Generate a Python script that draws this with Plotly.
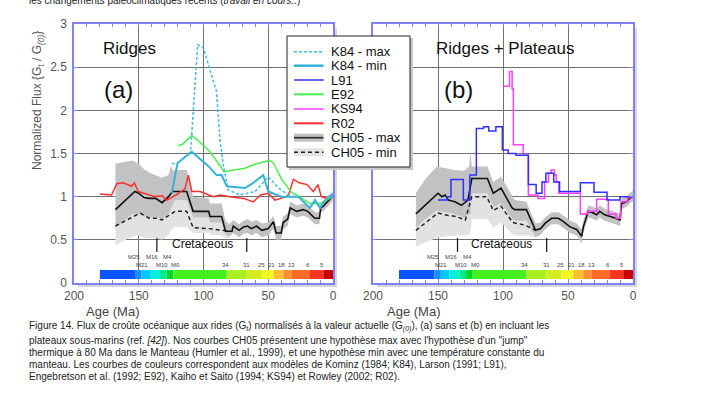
import plotly.graph_objects as go

W, H = 719, 393

# ---------------- DATA ----------------
# Panel (a) - Ridges
k84max_age = [124.5, 120, 110, 104.5, 100, 90, 87.3, 84.5, 81, 72, 60, 50, 42, 33, 26.8, 17.8, 13.9, 10, 6, 1, 0]
k84max_val = [1.38, 1.39, 1.52, 2.76, 2.72, 2.22, 1.66, 1.35, 1.08, 1.02, 1.06, 1.23, 1.10, 1.00, 1.00, 0.87, 0.96, 0.87, 0.96, 1.02, 1.00]

k84min_age = [124.6, 120, 109, 96, 90, 86, 82, 68, 61.5, 53.8, 50, 40, 26.8, 17.8, 13.9, 10, 6, 1, 0]
k84min_val = [1.04, 1.39, 1.52, 1.35, 1.25, 1.25, 1.12, 1.10, 1.16, 1.25, 1.06, 1.00, 1.00, 0.87, 0.96, 0.87, 0.96, 1.02, 1.00]

e92_age = [119.5, 116, 109, 102.7, 95, 87.3, 84, 80, 68, 61.5, 53.8, 49, 46, 39.6, 32, 26, 17.8, 10, 5, 0]
e92_val = [1.59, 1.61, 1.71, 1.63, 1.52, 1.35, 1.29, 1.30, 1.33, 1.37, 1.40, 1.42, 1.39, 1.20, 1.05, 1.00, 0.92, 0.92, 0.96, 1.00]

r02_age = [180, 171, 167, 162, 155.5, 153.4, 150.4, 146, 137.5, 132, 128.4, 121, 114.3, 111.7, 109, 102.7,
           92.4, 87, 80, 69, 61.5, 56, 50, 44.8, 34.5, 30.6, 26, 20, 15.2, 11.6, 9, 5, 0]
r02_val = [1.03, 1.02, 1.15, 1.16, 1.12, 1.16, 1.06, 1.04, 1.00, 1.01, 0.96, 1.02, 1.09, 1.25, 1.06, 1.06,
           1.00, 1.02, 1.00, 0.98, 0.94, 1.02, 1.04, 0.96, 1.01, 1.20, 1.16, 1.14, 1.06, 1.14, 1.00, 0.98, 1.01]

ch_age_a = [168, 153, 150, 146, 142, 137, 132, 127, 124, 113, 108, 96, 95, 86, 83, 78, 77, 72.5, 69, 66, 63, 59,
            55, 50, 46, 44, 40, 38.5, 35, 33, 28, 23, 19.5, 14, 10.5, 9.5, 7.5, 2.5, 0]
ch_max_a = [0.85, 1.06, 1.04, 0.99, 0.98, 0.98, 0.93, 1.00, 1.06, 1.06, 0.83, 0.83, 0.77, 0.77, 0.60, 0.60, 0.66,
            0.61, 0.65, 0.66, 0.63, 0.66, 0.61, 0.63, 0.71, 0.58, 0.58, 0.70, 0.74, 0.87, 0.83, 0.85, 0.83, 0.75,
            0.75, 0.87, 0.89, 0.97, 1.01]
chmin_age_a = [168, 149, 142, 136, 132, 126, 122, 113, 108, 96, 86, 80]
chmin_val_a = [0.66, 0.81, 0.75, 0.75, 0.73, 0.79, 0.83, 0.83, 0.64, 0.63, 0.61, 0.60]

band_age_a = [168, 160, 155, 150, 146, 141, 137, 132, 127, 125, 123.5, 122, 113, 108, 96, 95, 86, 83,
              80, 77, 72.5, 69, 66, 63, 59, 55, 50, 46, 44, 40, 38.5, 35, 33, 28, 23, 19.5, 14, 10.5, 9.5, 7.5, 2.5, 0]
dark_hi_a = [1.38, 1.41, 1.42, 1.38, 1.32, 1.27, 1.25, 1.22, 1.25, 1.36, 1.30, 1.31, 1.31, 1.00, 0.98, 0.92, 0.92, 0.72,
             0.68, 0.73, 0.68, 0.72, 0.74, 0.71, 0.73, 0.69, 0.70, 0.78, 0.66, 0.66, 0.77, 0.81, 0.94, 0.90, 0.92,
             0.90, 0.82, 0.82, 0.93, 0.95, 1.03, 1.06]
dark_lo_a = [0.64, 0.74, 0.80, 0.80, 0.77, 0.76, 0.77, 0.74, 0.80, 0.86, 0.92, 0.96, 0.96, 0.76, 0.76, 0.70, 0.70, 0.56,
             0.54, 0.58, 0.53, 0.57, 0.58, 0.55, 0.58, 0.53, 0.55, 0.63, 0.50, 0.50, 0.62, 0.66, 0.80, 0.76, 0.78,
             0.76, 0.68, 0.68, 0.81, 0.83, 0.91, 0.96]
light_age_a = [168, 160, 155, 150, 146, 141, 137, 132, 127, 125, 123.5, 122, 113, 108, 96, 95, 86, 83, 80]
light_lo_a = [0.44, 0.50, 0.54, 0.55, 0.52, 0.52, 0.52, 0.50, 0.56, 0.60, 0.64, 0.65, 0.65, 0.58, 0.58, 0.56, 0.55, 0.52, 0.52]
light_hi_a = [0.70, 0.80, 0.85, 0.85, 0.82, 0.80, 0.80, 0.78, 0.84, 0.90, 0.96, 0.98, 0.98, 0.80, 0.80, 0.74, 0.74, 0.60, 0.56]

# Panel (b) - Ridges + Plateaus
l91_age = [150, 143, 140, 130.5, 125.5, 120.5, 115, 111, 105.5, 100.5, 96, 90, 80.5, 74.5, 70, 67, 61, 56.5,
           40.5, 30, 20, 10, 0]
l91_val = [0.96, 1.00, 1.20, 0.96, 1.25, 1.79, 1.81, 1.76, 1.81, 1.54, 1.50, 1.48, 1.14, 1.04, 1.17, 1.27, 1.17,
           1.06, 1.16, 1.05, 0.96, 1.00, 1.00]

ks94_age = [100, 95, 93, 92, 84.5, 80.5, 73, 68, 65, 63, 60.5, 59, 57, 40.5, 35, 28, 19, 13, 9.5, 4, 0]
ks94_val = [2.28, 2.45, 2.25, 1.60, 1.48, 1.02, 0.98, 1.17, 1.27, 1.31, 1.25, 1.17, 1.04, 0.80, 0.83, 0.97,
            0.80, 0.75, 0.94, 0.99, 1.00]

ch_age_b = [167, 150, 147, 144.5, 142, 137, 132, 127, 124, 112, 107.5, 101.5, 93, 91, 82, 75, 71, 67.7, 62.6,
            57.4, 53.5, 48.4, 43.3, 39.5, 38.2, 36.5, 34.4, 30.5, 28, 25.6, 21.8, 15, 10, 8.8, 5, 2.6, 0]
ch_max_b = [0.80, 1.04, 1.00, 1.02, 0.96, 0.94, 0.90, 0.96, 1.21, 1.21, 1.04, 1.10, 0.87, 0.85, 0.85, 0.61, 0.63,
            0.69, 0.75, 0.75, 0.71, 0.65, 0.62, 0.54, 0.65, 0.72, 0.83, 0.81, 0.79, 0.83, 0.79, 0.76, 0.73, 0.92,
            0.94, 0.98, 1.00]
chmin_age_b = [167, 150, 145, 136, 129, 124, 112.5, 107.5, 101.5, 92.5, 83, 75]
chmin_val_b = [0.61, 0.81, 0.79, 0.77, 0.73, 1.00, 1.00, 0.84, 0.89, 0.70, 0.67, 0.61]

band_age_b = [167, 160, 151, 145, 137, 130, 126, 125, 124, 112, 107.5, 101.5, 93, 91,
              82, 75, 71, 67.7, 62.6, 57.4, 53.5, 48.4, 43.3, 39.5, 38.2, 36.5, 34.4, 30.5, 28, 25.6, 21.8, 15,
              10, 8.8, 5, 2.6, 0]
dark_hi_b = [1.04, 1.20, 1.35, 1.33, 1.31, 1.30, 1.35, 1.52, 1.35, 1.35, 1.17, 1.23, 1.00, 0.96,
             0.94, 0.69, 0.70, 0.76, 0.82, 0.82, 0.78, 0.72, 0.69, 0.62, 0.72, 0.79, 0.90, 0.88, 0.86, 0.90,
             0.86, 0.83, 0.80, 0.98, 1.00, 1.04, 1.07]
dark_lo_b = [0.64, 0.74, 0.84, 0.82, 0.80, 0.76, 0.80, 0.80, 1.04, 1.04, 0.88, 0.93, 0.74, 0.72,
             0.72, 0.53, 0.56, 0.62, 0.68, 0.68, 0.64, 0.58, 0.55, 0.46, 0.58, 0.65, 0.76, 0.74, 0.72, 0.76,
             0.72, 0.69, 0.66, 0.86, 0.88, 0.92, 0.95]
light_age_b = [167, 160, 151, 145, 137, 130, 126, 125, 124, 112, 107.5, 101.5, 93, 91, 82, 75]
light_lo_b = [0.42, 0.47, 0.52, 0.54, 0.55, 0.55, 0.56, 0.60, 0.74, 0.74, 0.64, 0.70, 0.57, 0.55, 0.55, 0.53]
light_hi_b = [0.70, 0.80, 0.88, 0.86, 0.84, 0.80, 0.84, 0.84, 1.08, 1.08, 0.92, 0.96, 0.78, 0.76, 0.74, 0.60]

# Geomagnetic time-scale colour bar (Ma boundaries) and anomaly labels
scale_edges = [180, 152.9, 147.8, 141.3, 133.6, 128.4, 123.3, 82, 66.6, 55, 46, 38.3, 31.9, 17.8, 7.5, 0]
scale_colors = ["#0a55ff", "#1a90ff", "#00c8ff", "#00f0d8", "#00e890", "#00d820", "#44f020", "#aaf020",
                "#d2ee22", "#f2f822", "#ffc030", "#ff9030", "#ff6a26", "#ff3322", "#cc0000"]
anom_top = ["M25", "M16", "M4"]
anom_top_age = [153.7, 140, 127.6]
anom_bot = ["M21", "M10", "M0", "34", "31", "25", "21", "18", "13", "6", "5"]
anom_bot_age = [147.8, 132.3, 121.5, 83.4, 66.6, 55.4, 47.2, 40, 31.8, 19.6, 8.5]

cret_a = [136, 66.6]
cret_b = [135, 66.4]

xticks = [200, 150, 100, 50, 0]
yticks = [0, 0.5, 1, 1.5, 2, 2.5, 3]

# ---------------- STYLE ----------------
C_K84D = "#40bde0"
C_K84 = "#35b2d6"
C_L91 = "#3030ff"
C_E92 = "#4cee4c"
C_KS94 = "#ff3cff"
C_R02 = "#ff2e2e"
C_DARK = "#c2c2c2"
C_LIGHT = "#e2e2e2"
FRAME = "#8080f4"
FONT = "Liberation Sans, Arial, sans-serif"


def px(x):
    return x / W


def py(y):
    return 1 - y / H


fig = go.Figure()


def band(age, hi, lo, color, xa, ya):
    fig.add_trace(go.Scatter(x=list(age) + list(age)[::-1], y=list(hi) + list(lo)[::-1],
                             fill="toself", fillcolor=color, line=dict(width=0), mode="lines",
                             xaxis=xa, yaxis=ya, hoverinfo="skip", showlegend=False))


def line(age, val, color, width, xa, ya, dash="solid", shape="linear"):
    fig.add_trace(go.Scatter(x=age, y=val, mode="lines",
                             line=dict(color=color, width=width, dash=dash, shape=shape),
                             xaxis=xa, yaxis=ya, showlegend=False))


# Panel a
band(light_age_a, light_hi_a, light_lo_a, C_LIGHT, "x", "y")
band(band_age_a, dark_hi_a, dark_lo_a, C_DARK, "x", "y")
line(chmin_age_a, chmin_val_a, "#222", 1.5, "x", "y", dash="4px,3px")
line(ch_age_a, ch_max_a, "#111", 1.6, "x", "y")
line(r02_age, r02_val, C_R02, 1.5, "x", "y")
line(e92_age, e92_val, C_E92, 1.5, "x", "y")
line(k84min_age, k84min_val, C_K84, 2, "x", "y")
line(k84max_age, k84max_val, C_K84D, 1.5, "x", "y", dash="3px,2px")

# Panel b
band(light_age_b, light_hi_b, light_lo_b, C_LIGHT, "x2", "y2")
band(band_age_b, dark_hi_b, dark_lo_b, C_DARK, "x2", "y2")
line(chmin_age_b, chmin_val_b, "#222", 1.5, "x2", "y2", dash="4px,3px")
line(ch_age_b, ch_max_b, "#111", 1.6, "x2", "y2")
line(ks94_age, ks94_val, C_KS94, 1.5, "x2", "y2", shape="hv")
line(l91_age, l91_val, C_L91, 1.5, "x2", "y2", shape="hv")

shapes = []
annos = []

# soft shadows at the right and bottom of the plot frames
for x0, x1 in [(74, 333), (373, 633)]:
    shapes.append(dict(type="rect", xref="paper", yref="paper", x0=px(x1), x1=px(x1 + 4),
                       y0=py(283 + 4), y1=py(24 + 4), fillcolor="#d6d6d6", line=dict(width=0), layer="below"))
    shapes.append(dict(type="rect", xref="paper", yref="paper", x0=px(x0 + 4), x1=px(x1 + 4),
                       y0=py(283 + 4), y1=py(283), fillcolor="#d6d6d6", line=dict(width=0), layer="below"))

for xr, yr, cret in [("x", "y", cret_a), ("x2", "y2", cret_b)]:
    for i, col in enumerate(scale_colors):
        shapes.append(dict(type="rect", xref=xr, yref=yr, x0=scale_edges[i], x1=scale_edges[i + 1],
                           y0=0.046, y1=0.15, fillcolor=col, line=dict(width=0), layer="above"))
    for c in cret:
        shapes.append(dict(type="line", xref=xr, yref=yr, x0=c, x1=c, y0=0.36, y1=0.52,
                           line=dict(color="#111", width=1.2)))
    for t, a in zip(anom_top, anom_top_age):
        annos.append(dict(xref=xr, yref=yr, x=a, y=0.30, text=t, showarrow=False,
                          font=dict(size=6, color="#444", family=FONT)))
    for t, a in zip(anom_bot, anom_bot_age):
        annos.append(dict(xref=xr, yref=yr, x=a, y=0.21, text=t, showarrow=False,
                          font=dict(size=6, color="#444", family=FONT)))
    annos.append(dict(xref=xr, yref=yr, x=101, y=0.45, text="Cretaceous", showarrow=False,
                      font=dict(size=12, color="#111", family=FONT)))

# Panel titles
annos += [
    dict(xref="x", yref="y", x=157.5, y=2.72, text="Ridges", showarrow=False,
         font=dict(size=17, color="#111", family=FONT)),
    dict(xref="x", yref="y", x=165.5, y=2.24, text="(a)", showarrow=False,
         font=dict(size=24, color="#111", family=FONT)),
    dict(xref="x2", yref="y2", x=98.5, y=2.72, text="Ridges + Plateaus", showarrow=False,
         font=dict(size=17, color="#111", family=FONT)),
    dict(xref="x2", yref="y2", x=134.5, y=2.24, text="(b)", showarrow=False,
         font=dict(size=24, color="#111", family=FONT)),
]

# axis titles
annos += [
    dict(xref="paper", yref="paper", x=px(38), y=py(101), xanchor="center", yanchor="middle",
         text="Normalized Flux {G<sub>t</sub> / G<sub><i>(0)</i></sub>}",
         textangle=-90, showarrow=False, font=dict(size=12, color="#555", family=FONT)),
    dict(xref="paper", yref="paper", x=px(113), y=py(311), xanchor="center", yanchor="middle",
         text="Age (Ma)", showarrow=False, font=dict(size=13, color="#444", family=FONT)),
    dict(xref="paper", yref="paper", x=px(413), y=py(311), xanchor="center", yanchor="middle",
         text="Age (Ma)", showarrow=False, font=dict(size=13, color="#444", family=FONT)),
]

# Manual legend
shapes.append(dict(type="rect", xref="paper", yref="paper", x0=px(289), x1=px(413), y0=py(170), y1=py(38),
                   fillcolor="#c8c8c8", line=dict(width=0)))
shapes.append(dict(type="rect", xref="paper", yref="paper", x0=px(287), x1=px(410), y0=py(167), y1=py(36),
                   fillcolor="white", line=dict(color="#222", width=1)))
leg = [
    ("K84 - max", C_K84D, 1.5, "3px,2px", None),
    ("K84 - min", C_K84, 2.5, "solid", None),
    ("L91", C_L91, 1.5, "solid", None),
    ("E92", C_E92, 2, "solid", None),
    ("KS94", C_KS94, 1.5, "solid", None),
    ("R02", C_R02, 2, "solid", None),
    ("CH05 - max", "#222", 1.6, "solid", C_DARK),
    ("CH05 - min", "#222", 1.6, "4px,3px", C_LIGHT),
]
leg_y = [51.7, 65.7, 80, 94.3, 109, 123.3, 137.7, 152.3]
for (name, col, wd, dash, bg), yy in zip(leg, leg_y):
    if bg:
        shapes.append(dict(type="line", xref="paper", yref="paper", x0=px(294), x1=px(323.5), y0=py(yy), y1=py(yy),
                           line=dict(color=bg, width=8)))
    shapes.append(dict(type="line", xref="paper", yref="paper", x0=px(294), x1=px(323.5), y0=py(yy), y1=py(yy),
                       line=dict(color=col, width=wd, dash=dash)))
    annos.append(dict(xref="paper", yref="paper", x=px(329), y=py(yy), text=name, showarrow=False,
                      xanchor="left", yanchor="middle", font=dict(size=13, color="#111", family=FONT)))

# Document text (top line cut + caption)
annos.append(dict(xref="paper", yref="paper", x=px(27), y=py(0.5), xanchor="left", yanchor="middle",
                  text="les changements paléoclimatiques récents (<i>travail en cours..</i>)", showarrow=False,
                  font=dict(size=10, color="#222", family=FONT)))
caption = [
    "Figure 14. Flux de croûte océanique aux rides (G<sub>t</sub>) normalisés à la valeur actuelle (G<sub><i>(0)</i></sub>), (a) sans et (b) en incluant les",
    "plateaux sous-marins (ref. <i>[42]</i>). Nos courbes CH05 présentent une hypothèse max avec l'hypothèse d'un \"jump\"",
    "thermique à 80 Ma dans le Manteau (Humler et al., 1999), et une hypothèse min avec une température constante du",
    "manteau. Les courbes de couleurs correspondent aux modèles de Kominz (1984; K84), Larson (1991; L91),",
    "Engebretson et al. (1992; E92), Kaiho et Saito (1994; KS94) et Rowley (2002; R02).",
]
cap_y = [326, 340, 352, 364, 376]
for t, yy in zip(caption, cap_y):
    annos.append(dict(xref="paper", yref="paper", x=px(27), y=py(yy), xanchor="left", yanchor="middle",
                      text=t, showarrow=False, font=dict(size=10, color="#222", family=FONT)))

axis_common = dict(showline=True, mirror="ticks", linecolor=FRAME, linewidth=1.5,
                   ticks="inside", tickcolor=FRAME, ticklen=4, showgrid=True, gridcolor="#707070",
                   gridwidth=0.8, zeroline=False, automargin=False,
                   tickfont=dict(size=12, color="#555", family=FONT))
xcommon = dict(axis_common, range=[200, 0], tickvals=xticks, ticklabelstandoff=1,
               minor=dict(dtick=10, tick0=0, ticks="inside", ticklen=3, tickcolor=FRAME, showgrid=False))
ycommon = dict(axis_common, range=[0, 3], tickvals=yticks, ticklabelstandoff=3)

fig.update_layout(
    width=W, height=H, margin=dict(l=0, r=0, t=0, b=0, pad=0, autoexpand=False),
    paper_bgcolor="white", plot_bgcolor="white", showlegend=False,
    font=dict(family=FONT),
    xaxis=dict(xcommon, domain=[px(74), px(333)], anchor="y"),
    yaxis=dict(ycommon, domain=[py(283), py(24)], anchor="x"),
    xaxis2=dict(xcommon, domain=[px(373), px(633)], anchor="y2"),
    yaxis2=dict(ycommon, domain=[py(283), py(24)], anchor="x2", showticklabels=False),
    shapes=shapes, annotations=annos,
)

fig.write_html("out.html", config={"displayModeBar": False},
               post_script="document.body.style.margin='0';")
